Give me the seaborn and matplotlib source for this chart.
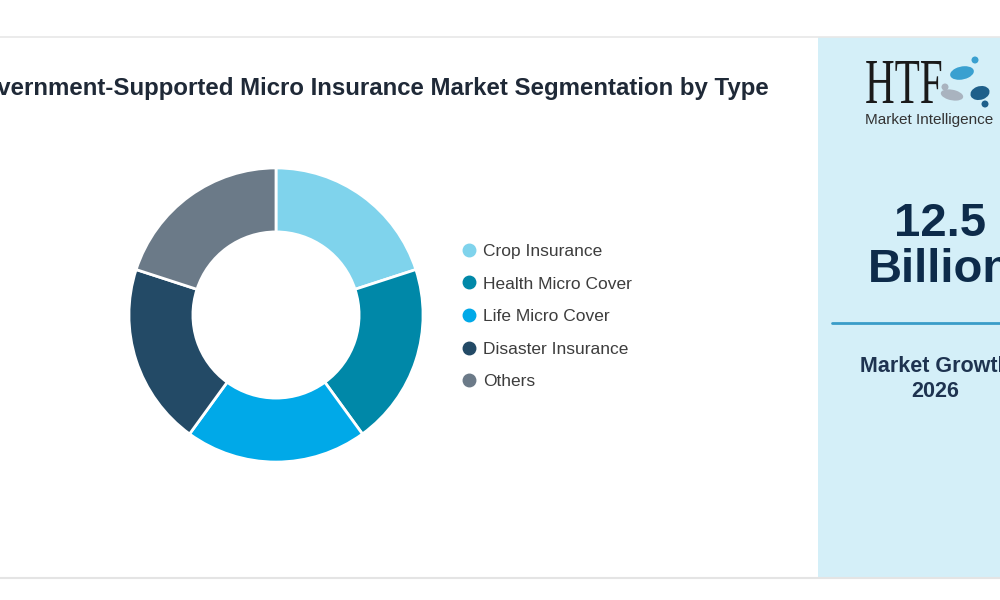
import numpy as np
import seaborn as sns
import matplotlib.pyplot as plt
from matplotlib.patches import Rectangle, Ellipse, PathPatch
from matplotlib.lines import Line2D
from matplotlib.textpath import TextPath
from matplotlib.font_manager import FontProperties
from matplotlib.transforms import Affine2D

# data
segments = ['Crop Insurance', 'Health Micro Cover', 'Life Micro Cover',
            'Disaster Insurance', 'Others']
shares = [20, 20, 20, 20, 20]
colors = ['#7fd3ec', '#0088a8', '#00a9e8', '#234a66', '#6b7a88']
title = 'Government-Supported Micro Insurance Market Segmentation by Type'
market_value = '12.5\nBillion'
growth_label = 'Market Growth\n2026'

sns.set_theme(style='white')
plt.rcParams['font.family'] = ['Liberation Sans', 'DejaVu Sans']

W, H = 1000, 600
fig = plt.figure(figsize=(10, 6), dpi=100)
fig.patch.set_facecolor('white')

def fx(px):
    return px / W

def fy(py):
    return 1 - py / H

# frame lines and right panel
fig.add_artist(Line2D([0, 1], [fy(37), fy(37)], color='#e8e8e8', lw=1.2))
fig.add_artist(Line2D([0, 1], [fy(577.5), fy(577.5)], color='#e4e4e4', lw=1.5))
fig.add_artist(Rectangle((fx(818), fy(577)), fx(200), (577 - 37) / H,
                         facecolor='#d4eff8', edgecolor='none'))

# title (clipped at the left edge like the reference)
fig.text(fx(769), fy(89), title, ha='right', va='center', fontsize=17.3,
         fontweight='bold', color='#1f2937')

# donut
cx, cy, r = 276, 315, 150
ax = fig.add_axes([fx(cx - r), fy(cy + r), 2 * r / W, 2 * r / H])
wedges, _ = ax.pie(shares, colors=colors, startangle=90, counterclock=False,
                   radius=1, wedgeprops=dict(width=0.435, edgecolor='white', linewidth=2))
ax.set_xlim(-1.02, 1.02)
ax.set_ylim(-1.02, 1.02)
ax.set_aspect('equal')
ax.axis('off')

handles = [Line2D([], [], marker='o', linestyle='none', markersize=9,
                  markerfacecolor=c, markeredgecolor=c) for c in colors]
fig.legend(handles, segments, loc='center left', bbox_to_anchor=(fx(460), fy(316.5)),
           frameon=False, fontsize=12.5, labelspacing=1.0, handletextpad=0.35,
           handlelength=1.0, labelcolor='#3d3d3d', borderaxespad=0, borderpad=0)

# right panel text
fig.text(fx(940), fy(247), market_value, ha='center', va='center', fontsize=34,
         fontweight='bold', color='#0d2b4a', linespacing=1.05)
fig.add_artist(Line2D([fx(832), 1], [fy(323), fy(323)], color='#3a9cc8', lw=2))
fig.text(fx(935), fy(379), growth_label, ha='center', va='center', fontsize=15.5,
         fontweight='bold', color='#1e3350', linespacing=1.25)

# logo: condensed serif HTF plus a small figure motif
tp = TextPath((0, 0), 'HTF', size=1, prop=FontProperties(family='Liberation Serif'))
ext = tp.get_extents()
sx = 75 / ext.width
sy = 42 / ext.height
tr = Affine2D().scale(sx, sy).translate(865, H - 103)
fig.add_artist(PathPatch(tr.transform_path(tp), facecolor='#1a1a1a', edgecolor='none',
                         transform=None))
for (ex, ey, w, h, ang, c) in [(962, 73, 26, 12, 40, '#3aa0d0'),
                               (952, 95, 24, 10, -30, '#a9b3bf'),
                               (980, 93, 24, 11, 70, '#1e5f8a')]:
    fig.add_artist(Ellipse((fx(ex), fy(ey)), fx(w), h / H, angle=ang,
                           facecolor=c, edgecolor='none'))
for (ex, ey, c) in [(975, 60, '#3aa0d0'), (945, 87, '#a9b3bf'), (985, 104, '#1e5f8a')]:
    fig.add_artist(Ellipse((fx(ex), fy(ey)), fx(7), 7 / H, facecolor=c, edgecolor='none'))
fig.text(fx(865), fy(120), 'Market Intelligence', ha='left', va='center',
         fontsize=11, color='#333333')

fig.savefig('out.png', dpi=100)
